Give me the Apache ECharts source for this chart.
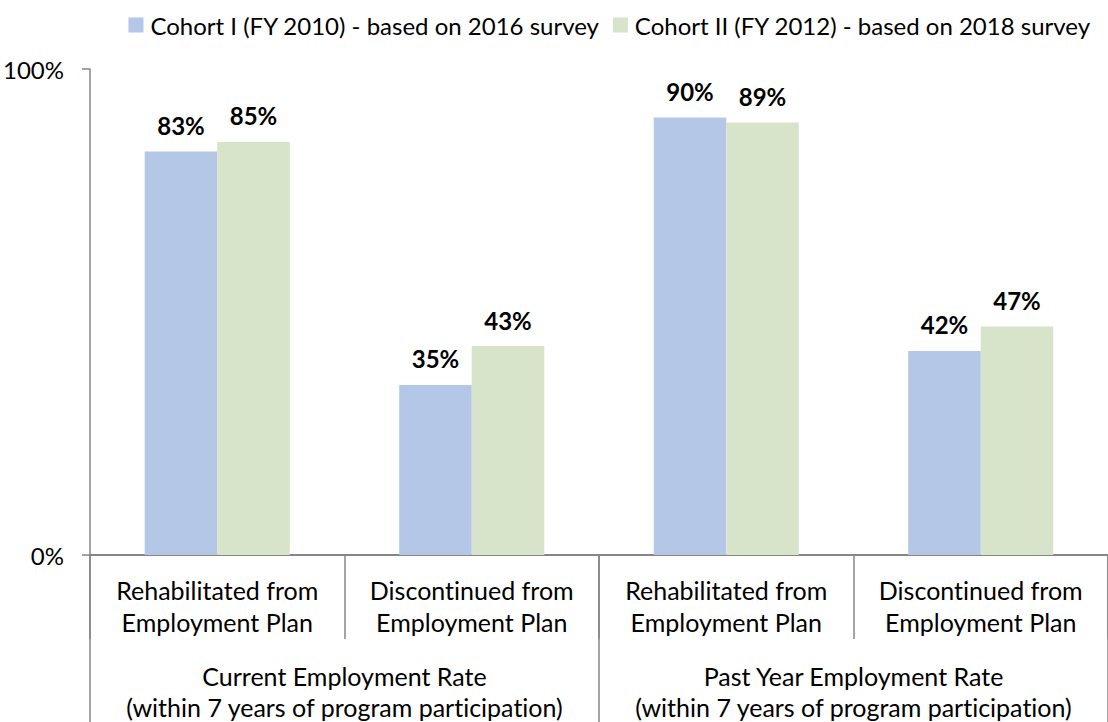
<!DOCTYPE html>
<html>
<head>
<meta charset="utf-8">
<script src="https://cdn.jsdelivr.net/npm/echarts@6/dist/echarts.min.js"></script>
<style>
html,body{margin:0;padding:0;background:#fff;}
#chart{width:1108px;height:722px;}
#chart svg text{font-variant-ligatures:none;font-feature-settings:"liga" 0,"clig" 0;}
</style>
</head>
<body>
<div id="chart"></div>
<script>
const categories = [
  'Rehabilitated from\nEmployment Plan',
  'Discontinued from\nEmployment Plan',
  'Rehabilitated from\nEmployment Plan',
  'Discontinued from\nEmployment Plan'
];
const groups = [
  'Current Employment Rate\n(within 7 years of program participation)',
  'Past Year Employment Rate\n(within 7 years of program participation)'
];
const seriesNames = [
  'Cohort I (FY 2010) - based on 2016 survey',
  'Cohort II (FY 2012) - based on 2018 survey'
];
const cohort1 = [83, 35, 90, 42];
const cohort2 = [85, 43, 89, 47];
const yTicks = [0, 100];

const FONT = 'Lato';
const FS = 25;
const AXIS = '#868686';

const chart = echarts.init(document.getElementById('chart'), null, { renderer: 'svg' });
const labelCfg = {
  show: true, position: 'top', distance: 14,
  formatter: p => p.value + '%',
  fontFamily: FONT, fontSize: 24, fontWeight: 'bold', color: '#000'
};
chart.setOption({
  animation: false,
  textStyle: { fontFamily: FONT },
  legend: {
    right: 12, top: 8,
    itemWidth: 15, itemHeight: 15, itemGap: 13,
    icon: 'rect',
    data: seriesNames,
    textStyle: { fontFamily: FONT, fontSize: 24, color: '#000', padding: [0, 0, 0, 2] }
  },
  grid: { left: 89, top: 69, width: 1029, height: 487, containLabel: false },
  xAxis: [
    {
      type: 'category', data: categories, position: 'bottom',
      axisLine: { show: true, lineStyle: { color: AXIS, width: 2 } },
      axisTick: { show: true, interval: 0, alignWithLabel: false, length: 84, lineStyle: { color: AXIS, width: 1.5 } },
      axisLabel: { interval: 0, margin: 19, fontFamily: FONT, fontSize: FS, lineHeight: 32, color: '#000' },
      splitLine: { show: false }
    },
    {
      type: 'category', data: groups, position: 'bottom',
      axisLine: { show: false },
      axisTick: { show: true, interval: 0, alignWithLabel: false, length: 170, lineStyle: { color: AXIS, width: 1.5 } },
      axisLabel: { interval: 0, margin: 105, fontFamily: FONT, fontSize: FS, lineHeight: 31, color: '#000' },
      splitLine: { show: false }
    }
  ],
  yAxis: {
    type: 'value', min: yTicks[0], max: yTicks[1], interval: 100,
    axisLine: { show: true, lineStyle: { color: AXIS, width: 1.5 } },
    axisTick: { show: true, length: 8, lineStyle: { color: AXIS, width: 1.5 } },
    axisLabel: { margin: 26, formatter: '{value}%', fontFamily: FONT, fontSize: 24, color: '#000' },
    splitLine: { show: false }
  },
  series: [
    {
      name: seriesNames[0], type: 'bar', xAxisIndex: 0, data: cohort1,
      barGap: '0%', barCategoryGap: '43%',
      itemStyle: { color: '#B4C7E7' }, label: labelCfg
    },
    {
      name: seriesNames[1], type: 'bar', xAxisIndex: 0, data: cohort2,
      barGap: '0%', barCategoryGap: '43%',
      itemStyle: { color: '#D7E4C9' }, label: labelCfg
    }
  ]
});
</script>
</body>
</html>
